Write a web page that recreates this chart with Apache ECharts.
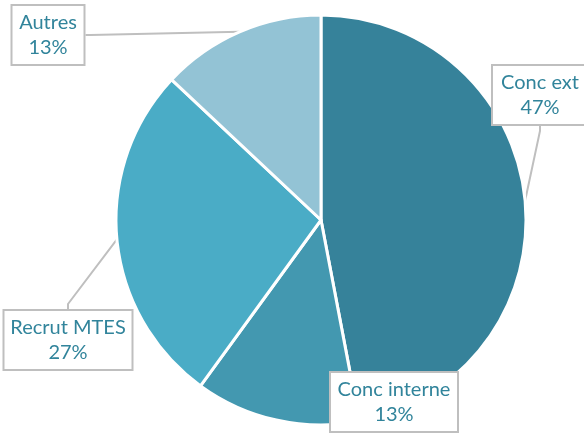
<!DOCTYPE html>
<html>
<head>
<meta charset="utf-8">
<script src="https://cdn.jsdelivr.net/npm/echarts@6/dist/echarts.min.js"></script>
<style>
html,body{margin:0;padding:0;background:#fff;}
#c{width:584px;height:433px;}
</style>
</head>
<body>
<div id="c"></div>
<script>
const categories = ['Conc ext', 'Conc interne', 'Recrut MTES', 'Autres'];
const values = [47, 13, 27, 13];
const colors = ['#36829A', '#4398B0', '#4AACC6', '#93C3D5'];
const labelCenters = [[540, 95], [394, 402], [68, 340], [48, 35]];
const labelWidths = [74, 106, 107, 51];

const chart = echarts.init(document.getElementById('c'), null, {renderer: 'canvas'});
chart.setOption({
  animation: false,
  series: [{
    type: 'pie',
    center: [321, 220],
    radius: 205,
    startAngle: 90,
    clockwise: true,
    data: categories.map((n, i) => ({
      name: n, value: values[i],
      itemStyle: {color: colors[i]},
      label: {width: labelWidths[i]}
    })),
    itemStyle: {borderColor: '#fff', borderWidth: 3},
    label: {
      show: true,
      position: 'outside',
      formatter: '{b}\n{c}%',
      color: '#31849B',
      fontFamily: 'Lato',
      fontSize: 20,
      lineHeight: 25,
      align: 'center',
      overflow: 'none',
      backgroundColor: '#fff',
      borderColor: '#BFBFBF',
      borderWidth: 2,
      padding: [5, 10, 3, 10]
    },
    labelLine: {
      show: true,
      length: 5,
      length2: 5,
      lineStyle: {color: '#BFBFBF', width: 2}
    },
    labelLayout: function (p) {
      const c = labelCenters[p.dataIndex];
      return {x: c[0], y: c[1], align: 'center', verticalAlign: 'middle'};
    }
  }]
});
</script>
</body>
</html>
